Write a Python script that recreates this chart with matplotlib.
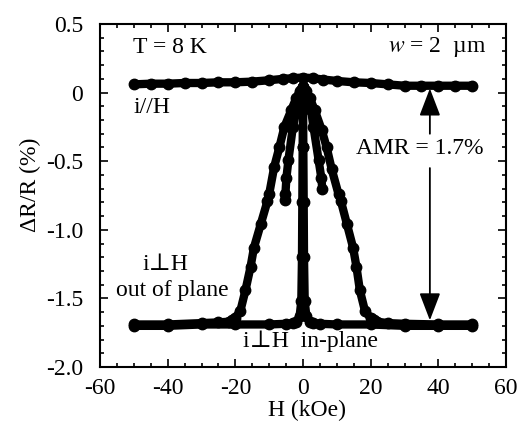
import numpy as np
import matplotlib
matplotlib.use("Agg")
import matplotlib.pyplot as plt
from matplotlib.ticker import MultipleLocator

## Daten
# i // H
H_par = [-50, -45, -40, -35, -30, -25, -20, -15, -10, -6, -3, 0,
         3, 6, 10, 15, 20, 25, 30, 35, 40, 45, 50]
R_par = [0.06, 0.065, 0.065, 0.07, 0.07, 0.075, 0.075, 0.08, 0.09, 0.10, 0.105, 0.11,
         0.105, 0.095, 0.085, 0.075, 0.07, 0.06, 0.05, 0.05, 0.05, 0.05, 0.05]

# i ⊥ H, out of plane (aeusserer Ast)
H_oop = [-50, -40, -30, -25, -22, -21, -20, -18.5, -17, -15.5, -14.5, -12.5, -10.5, -10,
         -8.5, -7, -5.5, -3.5, -2, -1, 0, 1, 2, 3.5, 5.5, 7, 8.5, 10.5, 11.2, 13,
         14.8, 15.8, 16.8, 18.3, 20, 21, 22, 25, 30, 40, 50]
R_oop = [-1.69, -1.69, -1.68, -1.675, -1.67, -1.66, -1.64, -1.59, -1.44, -1.27, -1.13, -0.96,
         -0.79, -0.74, -0.54, -0.40, -0.25, -0.13, -0.04, 0.01, 0.04, 0.01, -0.04, -0.13,
         -0.27, -0.40, -0.56, -0.74, -0.79, -0.96, -1.13, -1.27, -1.44, -1.59, -1.645,
         -1.66, -1.67, -1.68, -1.685, -1.69, -1.69]

# i ⊥ H, out of plane (innere Aeste)
H_inL = [0, -1, -1.9, -3, -4.3, -4.9, -5.2, -5.2]
R_inL = [0.04, -0.03, -0.13, -0.25, -0.49, -0.62, -0.74, -0.78]
H_inR = [0, 1, 2.4, 3.1, 4.6, 5.4, 5.7]
R_inR = [0.04, -0.03, -0.13, -0.25, -0.49, -0.62, -0.70]

# i ⊥ H, in-plane
H_ip = [-50, -40, -30, -20, -10, -5, -3, -2, -1, -0.5, -0.3, -0.2, -0.1, 0,
        0.1, 0.2, 0.3, 0.5, 1, 2, 3, 5, 10, 20, 30, 40, 50]
R_ip = [-1.70, -1.70, -1.69, -1.69, -1.69, -1.685, -1.68, -1.67, -1.63, -1.52, -1.2,
        -0.8, -0.4, 0.0, -0.4, -0.8, -1.2, -1.52, -1.63, -1.67, -1.68, -1.685, -1.69,
        -1.69, -1.70, -1.70, -1.70]

xticks = [-60, -40, -20, 0, 20, 40, 60]
xtick_labels = ["-60", "-40", "-20", "0", "20", "40", "60"]
yticks = [0.5, 0, -0.5, -1.0, -1.5, -2.0]
ytick_labels = ["0.5", "0", "-0.5", "-1.0", "-1.5", "-2.0"]

## Plot
plt.rcParams['font.family'] = ['Liberation Serif', 'DejaVu Serif']
plt.rcParams['mathtext.fontset'] = 'stix'
plt.rcParams['axes.unicode_minus'] = False
fs = 17

fig = plt.figure(figsize=(5.22, 4.29), dpi=100)
ax = fig.add_axes([100/522, 62/429, 406/522, 343/429])

style = dict(color="black", lw=6.0, marker="o", ms=7.5, solid_capstyle="round")
ax.plot(H_par, R_par, **style)
ax.plot(H_oop, R_oop, **style)
ax.plot(H_inL, R_inL, **style)
ax.plot(H_inR, R_inR, **style)
ax.plot(H_ip, R_ip, **style)

ax.set_xlim(-60, 60)
ax.set_ylim(-2.0, 0.5)
ax.set_xticks(xticks)
ax.set_xticklabels(xtick_labels)
ax.set_yticks(yticks)
ax.set_yticklabels(ytick_labels)
ax.xaxis.set_minor_locator(MultipleLocator(5))
ax.yaxis.set_minor_locator(MultipleLocator(0.1))
ax.tick_params(which="both", direction="in", top=True, right=True, labelsize=fs, width=1.2)
ax.tick_params(which="major", length=6)
ax.tick_params(which="minor", length=3)
ax.tick_params(axis="y", pad=12)
ax.tick_params(axis="x", pad=8)
for sp in ax.spines.values():
    sp.set_linewidth(1.5)

ax.set_xlabel("H (kOe)", fontsize=fs)
ax.xaxis.set_label_coords(0.51, -0.095)
ax.set_ylabel("ΔR/R (%)", fontsize=17)
ax.yaxis.set_label_coords(-0.145, 0.53)

# Beschriftungen
ax.text(-50.2, 0.33, "T = 8 K", fontsize=fs, ha="left", va="center")
ax.text(54.2, 0.33, "$w$ = 2  µm", fontsize=fs, ha="right", va="center")
ax.text(-50.2, -0.11, "i//H", fontsize=fs, ha="left", va="center")
ax.text(15.6, -0.41, "AMR = 1.7%", fontsize=fs, ha="left", va="center")
ax.text(-40.7, -1.25, "i⊥H", fontsize=fs, ha="center", va="center")
ax.text(-38.6, -1.44, "out of plane", fontsize=fs, ha="center", va="center")
ax.text(2.2, -1.81, "i⊥H  in-plane", fontsize=fs, ha="center", va="center")

# Doppelpfeil AMR
arr = dict(arrowstyle="-|>,head_length=1.7,head_width=0.65", color="black", lw=1.3,
           mutation_scale=10, shrinkA=0, shrinkB=0)
ax.annotate("", xy=(37.5, 0.03), xytext=(37.5, -0.30), arrowprops=arr)
ax.annotate("", xy=(37.5, -1.66), xytext=(37.5, -0.55), arrowprops=arr)

plt.savefig("out.png", dpi=100)
